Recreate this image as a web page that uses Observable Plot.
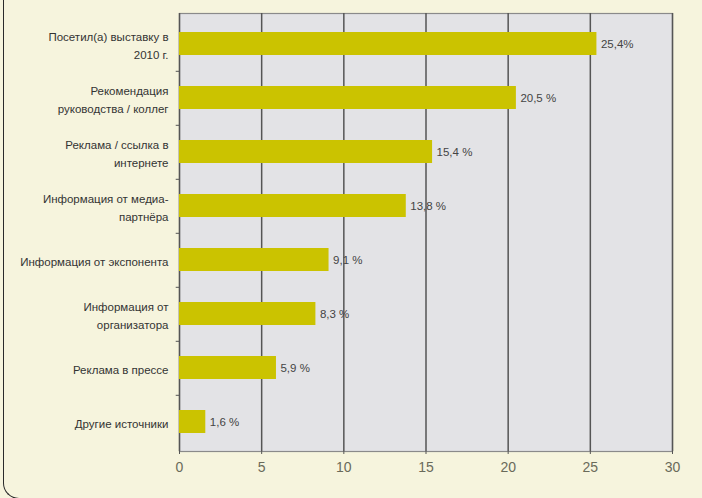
<!DOCTYPE html>
<html>
<head>
<meta charset="utf-8">
<script src="https://cdn.jsdelivr.net/npm/d3@7"></script>
<script src="https://cdn.jsdelivr.net/npm/@observablehq/plot@0.6"></script>
<style>
  html, body { margin: 0; padding: 0; background: #f6f4dd; }
  #wrap { position: relative; width: 702px; height: 498px; overflow: hidden; background: #f6f4dd; }
  #border { position: absolute; left: 3px; top: -20px; width: 760px; height: 519px;
            border-left: 1.5px solid #2a2a2a; border-bottom: 1.5px solid #2a2a2a;
            border-bottom-left-radius: 16px; box-sizing: border-box; }
  #chart { position: absolute; left: 0; top: 0; }
</style>
</head>
<body>
<div id="wrap"><div id="border"></div><div id="chart"></div></div>
<script>
const categories = [
  "Посетил(а) выставку в\n2010 г.",
  "Рекомендация\nруководства / коллег",
  "Реклама / ссылка в\nинтернете",
  "Информация от медиа-\nпартнёра",
  "Информация от экспонента",
  "Информация от\nорганизатора",
  "Реклама в прессе",
  "Другие источники"
];
const values = [25.4, 20.5, 15.4, 13.8, 9.1, 8.3, 5.9, 1.6];
const valueLabels = ["25,4%", "20,5 %", "15,4 %", "13,8 %", "9,1 %", "8,3 %", "5,9 %", "1,6 %"];
const xTicks = [0, 5, 10, 15, 20, 25, 30];
const gridTicks = [5, 10, 15, 20, 25, 30];

const data = categories.map((c, i) => ({cat: c, value: values[i], label: valueLabels[i]}));

const chart = Plot.plot({
  width: 702,
  height: 498,
  marginLeft: 179,
  marginRight: 30,
  marginTop: 13,
  marginBottom: 47,
  style: {background: "transparent", fontFamily: "Liberation Sans, Arial, sans-serif"},
  x: {domain: [0, 30], ticks: xTicks, label: null},
  y: {domain: categories, paddingInner: 0.58, paddingOuter: 0.29, axis: null},
  marks: [
    Plot.frame({fill: "#e3e3e6", stroke: "#8a8a8a", strokeWidth: 1.2}),
    Plot.ruleX(gridTicks, {stroke: "#555", strokeWidth: 1.5}),
    Plot.ruleX([0], {stroke: "#555", strokeWidth: 1.5}),
    Plot.ruleY(categories.slice(0, -1), {x1: -0.2, x2: 0, dy: 27.3, stroke: "#555", strokeWidth: 1}),
    Plot.barX(data, {y: "cat", x: "value", fill: "#cbc300"}),
    Plot.text(data, {y: "cat", x: "value", text: "label", dx: 4, textAnchor: "start", fontSize: 11.5, fill: "#444"}),
    Plot.text(data, {y: "cat", x: 0, text: "cat", dx: -11, textAnchor: "end", fontSize: 11.5, lineHeight: 1.55, fill: "#333"}),
    Plot.axisX(xTicks, {tickSize: 3, tickPadding: 8, fontSize: 14, color: "#6a6a5a", stroke: "#555", label: null}),
    Plot.ruleY([0], {frameAnchor: "bottom", stroke: "#666", strokeWidth: 1.5})
  ]
});
document.getElementById("chart").appendChild(chart);
</script>
</body>
</html>
